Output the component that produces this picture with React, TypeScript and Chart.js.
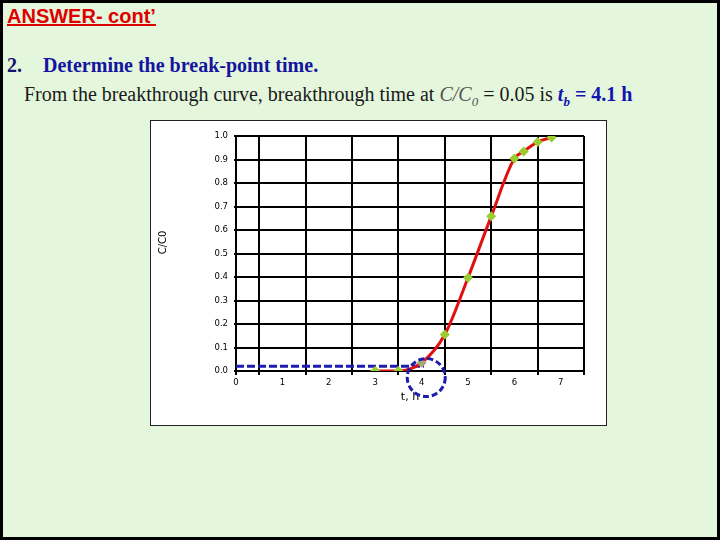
import React, { useEffect, useRef } from "react";
import { Chart, registerables } from "chart.js";

Chart.register(...registerables);

// ---- data ----
const timeHours = [3, 3.5, 4, 4.5, 5, 5.5, 6, 6.2, 6.5, 6.8];
const concRatio = [0, 0, 0.035, 0.155, 0.397, 0.658, 0.904, 0.934, 0.975, 0.994];
const breakLineT = [0, 4.05];
const breakLineC = [0.02, 0.02];
const circleCenter = { t: 4.1, c: -0.028 };
const yTickStep = 0.1;
const xTickStep = 0.5;

const GREEN = "#9acd32";
const RED = "#e01010";
const BLUE = "#1c1cae";

const annotatePlugin = {
  id: "annotate",
  afterDraw(chart: any) {
    const { ctx, chartArea, scales } = chart;
    // y-axis title
    ctx.save();
    ctx.font = "10px 'DejaVu Sans'";
    ctx.fillStyle = "#000";
    ctx.textAlign = "center";
    ctx.textBaseline = "middle";
    ctx.translate(12, (chartArea.top + chartArea.bottom) / 2 - 11);
    ctx.rotate(-Math.PI / 2);
    ctx.fillText("C/C0", 0, 0);
    ctx.restore();
    // highlight circle
    const cx = scales.x.getPixelForValue(circleCenter.t);
    const cy = scales.y.getPixelForValue(circleCenter.c);
    ctx.save();
    ctx.strokeStyle = BLUE;
    ctx.lineWidth = 3;
    ctx.setLineDash([6, 3]);
    ctx.beginPath();
    ctx.arc(cx, cy, 19, 0, Math.PI * 2);
    ctx.stroke();
    ctx.restore();
  },
};

function BreakChart() {
  const ref = useRef<HTMLCanvasElement | null>(null);
  useEffect(() => {
    if (!ref.current) return;
    const chart = new Chart(ref.current, {
      type: "scatter",
      data: {
        datasets: [
          {
            label: "break",
            data: breakLineT.map((t, i) => ({ x: t, y: breakLineC[i] })),
            showLine: true,
            borderColor: BLUE,
            borderWidth: 3,
            borderDash: [8, 3],
            pointRadius: 0,
            order: 2,
          },
          {
            label: "C/C0",
            data: timeHours.map((t, i) => ({ x: t, y: concRatio[i] })),
            showLine: true,
            borderColor: RED,
            borderWidth: 3,
            cubicInterpolationMode: "monotone",
            pointStyle: "rectRot",
            pointRadius: 5,
            pointBorderWidth: 0,
            pointBackgroundColor: timeHours.map((t) => (t === 4 ? "#a8a878" : GREEN)),
            pointBorderColor: timeHours.map((t) => (t === 4 ? "#a8a878" : GREEN)),
            order: 1,
          },
        ],
      },
      options: {
        animation: false,
        responsive: false,
        layout: { padding: { top: 15, right: 22, left: 0, bottom: 0 } },
        plugins: { legend: { display: false }, tooltip: { enabled: false } },
        scales: {
          x: {
            type: "linear",
            min: 0,
            max: 7.5,
            afterFit: (s: any) => {
              s.height = 54;
            },
            ticks: {
              stepSize: xTickStep,
              autoSkip: false,
              maxRotation: 0,
              padding: 3,
              color: "#000",
              font: { family: "'DejaVu Sans'", size: 8.5 },
              callback: (v: any) => (Number.isInteger(v) ? String(v) : ""),
            },
            grid: {
              color: (c: any) =>
                c.tick && (c.tick.value % 1 !== 0 || c.tick.value === 0) ? "#000" : "rgba(0,0,0,0)",
              lineWidth: 2,
              drawTicks: true,
              tickLength: 4,
            },
            border: { color: "#000", width: 2 },
            title: {
              display: true,
              text: "t, h",
              color: "#000",
              font: { family: "'DejaVu Sans'", size: 11 },
              padding: { top: 0, bottom: 21 },
            },
          },
          y: {
            type: "linear",
            min: 0,
            max: 1,
            afterFit: (s: any) => {
              s.width = 85;
            },
            ticks: {
              stepSize: yTickStep,
              padding: 6,
              color: "#000",
              font: { family: "'DejaVu Sans'", size: 8.5 },
              callback: (v: any) => Number(v).toFixed(1),
            },
            grid: { color: "#000", lineWidth: 2, drawTicks: true, tickLength: 2 },
            border: { color: "#000", width: 2 },
          },
        },
      },
      plugins: [annotatePlugin],
    } as any);
    return () => chart.destroy();
  }, []);
  return <canvas ref={ref} width={455} height={304} style={{ display: "block" }} />;
}

export default function App() {
  const serif = "'Liberation Serif', 'Times New Roman', serif";
  return (
    <div
      style={{
        position: "fixed",
        left: 0,
        top: 0,
        width: 720,
        height: 540,
        boxSizing: "border-box",
        border: "3px solid #000",
        background: "#e4f7dc",
        overflow: "hidden",
      }}
    >
      <div
        style={{
          position: "absolute",
          left: 4,
          top: 2,
          fontFamily: "'Liberation Sans', Arial, sans-serif",
          fontWeight: "bold",
          fontSize: 20,
          color: "#dd0000",
          textDecoration: "underline",
          whiteSpace: "nowrap",
          lineHeight: "22px",
        }}
      >
        ANSWER- cont’
      </div>
      <div
        style={{
          position: "absolute",
          left: 4,
          top: 51,
          fontFamily: serif,
          fontWeight: "bold",
          fontSize: 20,
          whiteSpace: "nowrap",
          lineHeight: "22px",
        }}
      >
        <span style={{ color: "#14146e" }}>2.</span>
        <span style={{ position: "absolute", left: 36, color: "#1414a0" }}>
          Determine the break-point time.
        </span>
      </div>
      <div
        style={{
          position: "absolute",
          left: 21,
          top: 80,
          fontFamily: serif,
          fontSize: 20,
          color: "#1a1a1a",
          whiteSpace: "nowrap",
          lineHeight: "22px",
        }}
      >
        From the breakthrough curve, breakthrough time at{" "}
        <i style={{ color: "#555" }}>
          C/C<sub style={{ fontSize: 13 }}>0</sub>
        </i>{" "}
        = 0.05 is{" "}
        <b style={{ color: "#1414b0" }}>
          <i>
            t<sub style={{ fontSize: 13 }}>b</sub>
          </i>{" "}
          = 4.1 h
        </b>
      </div>
      <div
        style={{
          position: "absolute",
          left: 147,
          top: 117,
          width: 457,
          height: 306,
          boxSizing: "border-box",
          border: "1px solid #222",
          background: "#fff",
        }}
      >
        <BreakChart />
      </div>
    </div>
  );
}
